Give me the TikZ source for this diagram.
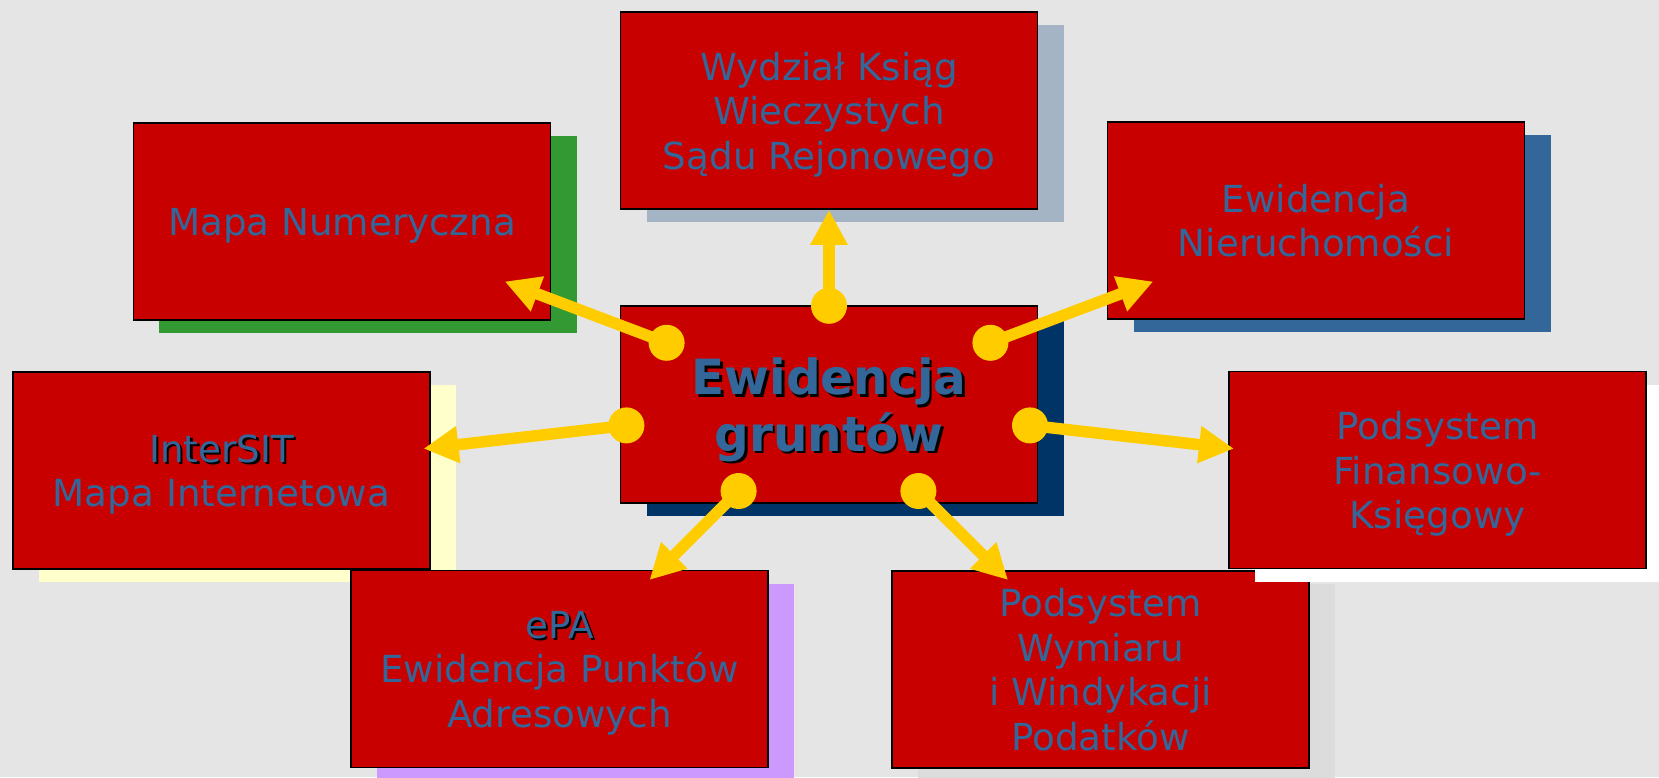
\documentclass[tikz,border=0pt]{standalone}
\usepackage{fontspec}
\setmainfont{DejaVu Sans}
\usetikzlibrary{arrows.meta,shadows}
\definecolor{tlo}{HTML}{E5E5E5}
\definecolor{boxred}{HTML}{C80000}
\definecolor{txtblue}{HTML}{336699}
\definecolor{zolty}{HTML}{FFCC00}
\definecolor{cienkw}{HTML}{A4B4C4}
\definecolor{cienmapa}{HTML}{339933}
\definecolor{cienier}{HTML}{336699}
\definecolor{cieneg}{HTML}{003366}
\definecolor{cienisit}{HTML}{FFFFCC}
\definecolor{cienepa}{HTML}{CC99FF}
\definecolor{cienwym}{HTML}{DCDCDC}
% tekst z czarnym cieniem
\newcommand{\tshad}[1]{\makebox[0pt][l]{\hspace{0.5mm}\raisebox{-0.5mm}{\color{black}#1}}#1}

\begin{document}
\begin{tikzpicture}[x=0.2mm, y=-0.2mm,
    box/.style={draw=black, line width=0.9pt, fill=boxred, text=txtblue,
      align=center, inner sep=0pt, minimum width=83.4mm, minimum height=39.4mm,
      text depth=-3.9pt, font=\fontsize{21.2}{25.3}\selectfont},
    cien/.style={drop shadow={shadow xshift=5.2mm, shadow yshift=-2.6mm,
      opacity=1, fill=#1}},
    arr/.style={draw=zolty, line width=2.3mm, -{Triangle[length=7mm, width=7mm]}},
    kropka/.style={circle, fill=zolty, inner sep=0pt, minimum size=7.2mm}
  ]
  \useasboundingbox (0,0) rectangle (1659,777);
  \fill[tlo] (0,0) rectangle (1659,777);

  \node[box, cien=cienkw] (kw) at (829,110.5) {Wydział Ksiąg\\Wieczystych\\Sądu Rejonowego};
  \node[box, cien=cienmapa] (mapa) at (342,221.5) {Mapa Numeryczna};
  \node[box, cien=cienier] (nier) at (1316,220.5) {Ewidencja\\Nieruchomości};
  \node[box, cien=cieneg, text depth=-5.4pt, font=\fontsize{27.6}{32}\selectfont\bfseries] (eg) at (829,404.5)
    {\tshad{Ewidencja}\\\tshad{gruntów}};
  \node[box, cien=cienisit] (isit) at (221.5,470.5) {\tshad{InterSIT}\\Mapa Internetowa};
  \node[box, cien=cienepa] (epa) at (559.5,669) {\tshad{ePA}\\Ewidencja Punktów\\Adresowych};
  \node[box, cien=cienwym] (wym) at (1100.5,669.5) {Podsystem\\Wymiaru\\i Windykacji\\Podatków};
  \node[box, cien=white] (fk) at (1437.5,470) {Podsystem\\Finansowo-\\Księgowy};

  % kropki na polu srodkowym
  \node[kropka] (d1) at (829,305.8) {};
  \node[kropka] (d2) at (666.6,342.8) {};
  \node[kropka] (d3) at (990.4,342.8) {};
  \node[kropka] (d4) at (626.4,425.4) {};
  \node[kropka] (d5) at (1030,425.4) {};
  \node[kropka] (d6) at (738.6,491) {};
  \node[kropka] (d7) at (918.4,491) {};

  % groty strzalek
  \coordinate (t2) at (504.7,281.5);
  \coordinate (t3) at (1153.3,281.5);
  \coordinate (t4) at (423.5,448.6);
  \coordinate (t5) at (1234,448.6);
  \coordinate (t6) at (649.5,580);
  \coordinate (t7) at (1008,580);

  \draw[arr] (d1.center) -- (kw.south);
  \draw[arr] (d2.center) -- (t2);
  \draw[arr] (d3.center) -- (t3);
  \draw[arr] (d4.center) -- (t4);
  \draw[arr] (d5.center) -- (t5);
  \draw[arr] (d6.center) -- (t6);
  \draw[arr] (d7.center) -- (t7);
\end{tikzpicture}
\end{document}
